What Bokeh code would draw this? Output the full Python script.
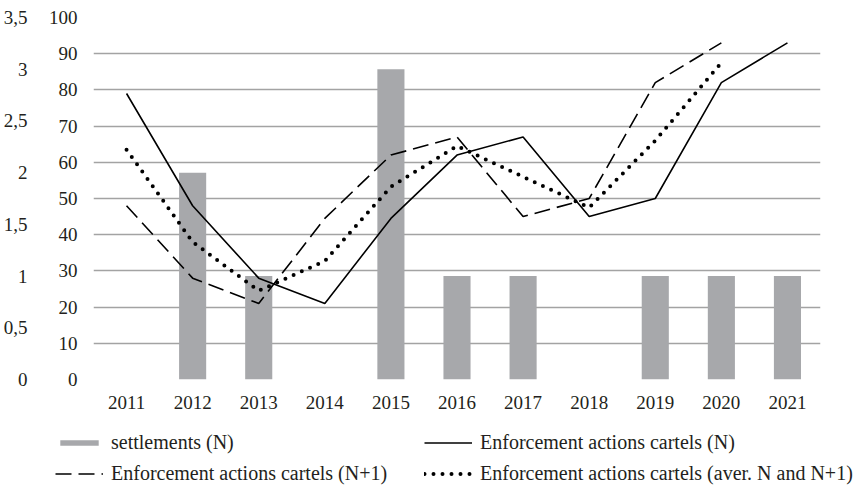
from bokeh.plotting import figure
from bokeh.layouts import column
from bokeh.models import (Range1d, LinearAxis, FixedTicker, CustomJSTickFormatter,
                          Legend, LegendItem, FactorRange)
from bokeh.embed import file_html
from bokeh.resources import INLINE

years = ["2011", "2012", "2013", "2014", "2015", "2016", "2017", "2018", "2019", "2020", "2021"]
settlements = [0, 2, 1, 0, 3, 1, 1, 0, 1, 1, 1]
enf_n = [79, 48, 28, 21, 44.5, 62, 67, 45, 50, 82, 93]
years_n1 = years[:10]
enf_n1 = [48, 28, 21, 44.5, 62, 67, 45, 50, 82, 93]
enf_avg = [63.5, 38, 24.5, 32.75, 53.25, 64.5, 56, 47.5, 66, 87.5]
left_ticks = [0, 10, 20, 30, 40, 50, 60, 70, 80, 90, 100]
bar_ticks = [0, 0.5, 1, 1.5, 2, 2.5, 3, 3.5]

FONT = "Liberation Serif"
TXT = "#231f20"
GRID = "#a3a3a3"
BAR = "#a7a8ab"

p = figure(x_range=FactorRange(*years, range_padding=0), y_range=Range1d(0, 100),
           frame_width=727, frame_height=362, output_backend="svg", toolbar_location=None,
           min_border_left=0, min_border_right=32, min_border_top=17, min_border_bottom=38)
p.extra_y_ranges = {"bars": Range1d(0, 3.5)}
p.outline_line_color = None
p.xgrid.visible = False
p.ygrid.grid_line_color = GRID
p.ygrid.grid_line_width = 1.3

bar_style = dict(fill_color=BAR, line_color=None)
n_style = dict(line_color="black", line_width=1.6)
n1_style = dict(line_color="black", line_width=1.6, line_dash="16 7")
avg_style = dict(line_color="black", line_width=4, line_dash="0 9", line_cap="round")

p.vbar(x=years, top=settlements, width=0.41, y_range_name="bars", **bar_style)
p.line(years, enf_n, **n_style)
p.line(years_n1, enf_n1, **n1_style)
p.line(years_n1, enf_avg, **avg_style)

ya = p.yaxis[0]
ya.ticker = FixedTicker(ticks=left_ticks)
ya.axis_line_color = None
ya.major_tick_line_color = None
ya.minor_tick_line_color = None
ya.major_label_standoff = 10
ya.major_label_text_font = FONT
ya.major_label_text_font_size = "19px"
ya.major_label_text_color = TXT

outer = LinearAxis(y_range_name="bars", ticker=FixedTicker(ticks=bar_ticks),
                   formatter=CustomJSTickFormatter(code="return String(tick).replace('.', ',');"),
                   axis_line_color=None, major_tick_line_color=None, minor_tick_line_color=None,
                   major_label_standoff=12, major_label_text_font=FONT,
                   major_label_text_font_size="19px", major_label_text_color=TXT)
p.add_layout(outer, "left")

xa = p.xaxis[0]
xa.axis_line_color = None
xa.major_tick_line_color = None
xa.major_label_standoff = 10
xa.major_label_text_font = FONT
xa.major_label_text_font_size = "19px"
xa.major_label_text_color = TXT

# legend strip below the chart (proxy renderers with no visible data)
NAN = float("nan")
lg = figure(x_range=Range1d(0, 1), y_range=Range1d(0, 1), frame_width=862, frame_height=68,
            output_backend="svg", toolbar_location=None, x_axis_type=None, y_axis_type=None,
            min_border=0)
lg.outline_line_color = None
lg.grid.visible = False
r_bar = lg.vbar(x=[NAN], top=[NAN], width=0.4, **bar_style)
r_n = lg.line(x=[NAN], y=[NAN], **n_style)
r_n1 = lg.line(x=[NAN], y=[NAN], **n1_style)
r_avg = lg.line(x=[NAN], y=[NAN], **avg_style)

legend = Legend(items=[
    LegendItem(label="settlements (N)", renderers=[r_bar]),
    LegendItem(label="Enforcement actions cartels (N+1)", renderers=[r_n1]),
    LegendItem(label="Enforcement actions cartels (N)", renderers=[r_n]),
    LegendItem(label="Enforcement actions cartels (aver. N and N+1)", renderers=[r_avg]),
], ncols=2, location=(55, 0), glyph_width=48, glyph_height=7, label_height=20,
    label_width=305, label_standoff=8, spacing=8, margin=0, padding=0,
    border_line_color=None, background_fill_alpha=0, label_text_font=FONT,
    label_text_font_size="20px", label_text_color=TXT)
lg.add_layout(legend, "center")

layout = column(p, lg, spacing=0)
open("out.html", "w").write(file_html(layout, INLINE))
